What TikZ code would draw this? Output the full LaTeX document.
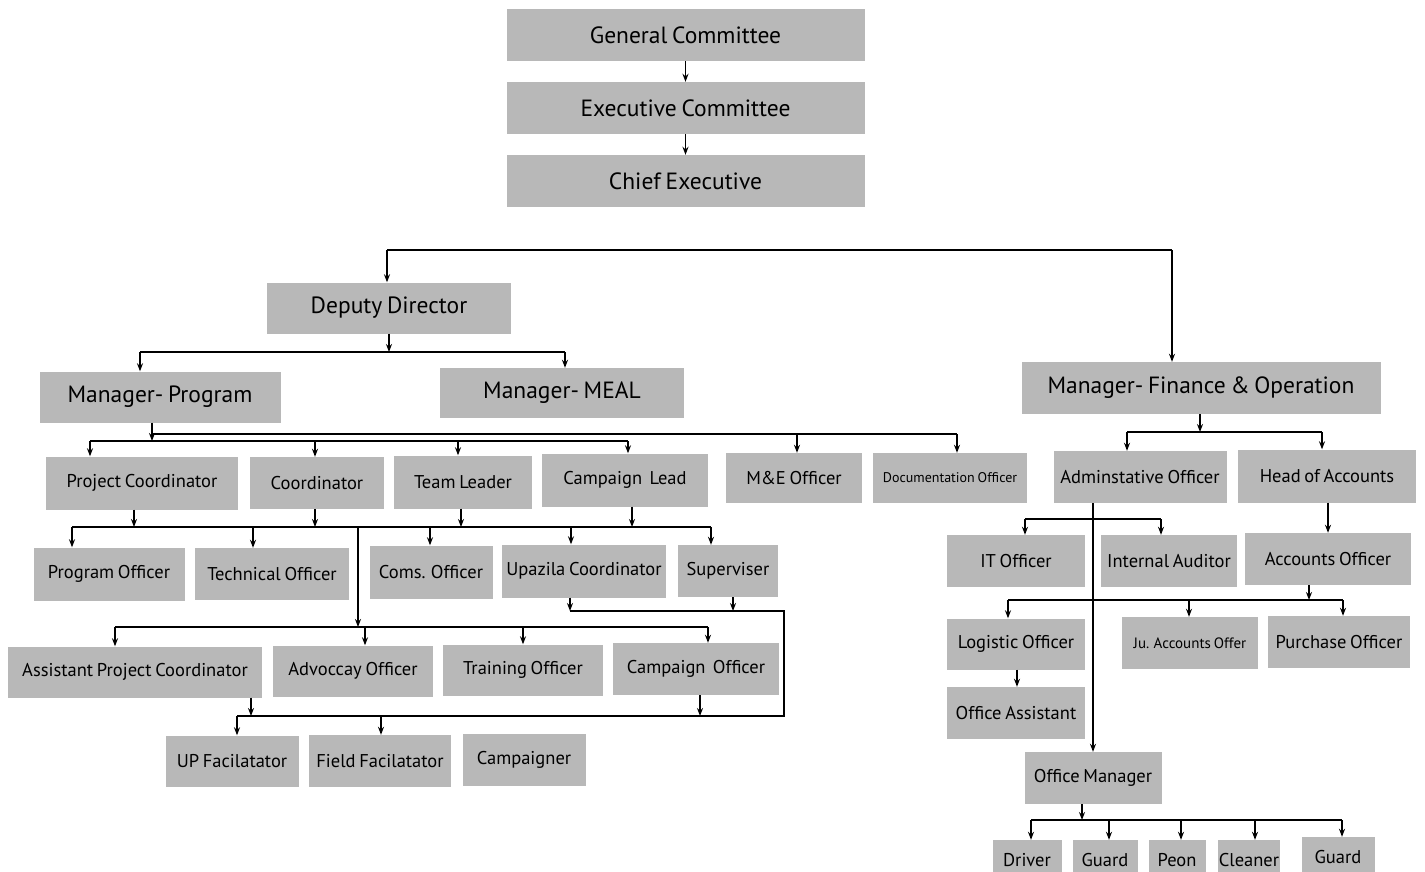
\documentclass[tikz,border=0pt]{standalone}
\usepackage{fontspec}
\setmainfont{PT Sans}[WordSpace=0.75]
\usetikzlibrary{arrows.meta,positioning}
\definecolor{boxgray}{HTML}{B8B8B8}
\tikzset{
  post/.style={rectangle,fill=boxgray,inner sep=0pt,align=center,minimum height=52pt,font=\fontsize{18.5}{21}\selectfont},
  bigpost/.style={post,font=\fontsize{23.5}{27}\selectfont},
  lowpost/.style={post,minimum height=40pt,font=\fontsize{18.5}{21}\selectfont},
  arrow/.style={-{Stealth[length=8pt,width=6pt]},line width=1.8pt,black},
  link/.style={line width=1.8pt,black}
}
\begin{document}
\begin{tikzpicture}[x=1pt,y=-1pt]
  \clip (0,0) rectangle (1425,871);
  % top of the chart
  \node[bigpost,minimum width=358pt] (gc) at (685.5,35) {General Committee};
  \node[bigpost,minimum width=358pt] (ec) at (685.5,108) {Executive Committee};
  \node[bigpost,minimum width=358pt] (ce) at (685.5,181) {Chief Executive};
  \draw[arrow] (gc) -- (ec);
  \draw[arrow] (ec) -- (ce);

  \node[bigpost,minimum width=244pt,minimum height=51pt] (dd) at (389,308) {Deputy Director};
  \node[bigpost,minimum width=241pt,minimum height=51pt] (mprog) at (160,397) {Manager- Program};
  \node[bigpost,minimum width=244pt,minimum height=50pt] (mmeal) at (562,393) {Manager- MEAL};
  \node[bigpost,minimum width=359pt] (mfo) at (1201,388) {Manager- Finance \& Operation};
  \draw[link] (387,250) -- (1172,250);
  \draw[arrow] (387,250) -- (387,0 |- dd.north);
  \draw[arrow] (1172,250) -- (1172,0 |- mfo.north);
  \draw[arrow] (389,0 |- dd.south) -- (389,352);
  \draw[link] (140,352) -- (565,352);
  \draw[arrow] (140,352) -- (140,0 |- mprog.north);
  \draw[arrow] (565,352) -- (565,0 |- mmeal.north);

  % program side
  \node[post,minimum width=192pt,minimum height=53pt] (pc) at (142,483) {Project Coordinator};
  \node[post,minimum width=134pt] (crd) at (317,483) {Coordinator};
  \node[post,minimum width=138pt,minimum height=53pt] (tl) at (463,482) {Team Leader};
  \node[post,minimum width=166pt,minimum height=53pt] (cl) at (625,480) {Campaign\ \ Lead};
  \node[post,minimum width=136pt,minimum height=50pt] (me) at (794,478) {M\&E Officer};
  \node[post,minimum width=154pt,minimum height=50pt,font=\fontsize{14}{16}\selectfont] (doc) at (950,478) {Documentation Officer};
  \draw[arrow] (152,0 |- mprog.south) -- (152,441);
  \draw[link] (152,434) -- (957,434);
  \draw[arrow] (797,434) -- (797,0 |- me.north);
  \draw[arrow] (957,434) -- (957,0 |- doc.north);
  \draw[link] (90,441) -- (628,441);
  \draw[arrow] (90,441) -- (90,0 |- pc.north);
  \draw[arrow] (315,441) -- (315,0 |- crd.north);
  \draw[arrow] (458,441) -- (458,0 |- tl.north);
  \draw[arrow] (628,441) -- (628,0 |- cl.north);

  \node[post,minimum width=151pt,minimum height=53pt] (po) at (109,574) {Program Officer};
  \node[post,minimum width=154pt] (tco) at (272,574) {Technical Officer};
  \node[post,minimum width=123pt,minimum height=53pt] (coms) at (431,572) {Coms. Officer};
  \node[post,minimum width=164pt,minimum height=53pt] (upc) at (584,571) {Upazila Coordinator};
  \node[post,minimum width=100pt] (sup) at (728,571) {Superviser};
  \draw[arrow] (134,0 |- pc.south) -- (134,527);
  \draw[arrow] (315,0 |- crd.south) -- (315,527);
  \draw[arrow] (461,0 |- tl.south) -- (461,527);
  \draw[arrow] (632,0 |- cl.south) -- (632,527);
  \draw[link] (72,527) -- (711,527);
  \draw[arrow] (72,527) -- (72,0 |- po.north);
  \draw[arrow] (253,527) -- (253,0 |- tco.north);
  \draw[arrow] (430,527) -- (430,0 |- coms.north);
  \draw[arrow] (571,527) -- (571,0 |- upc.north);
  \draw[arrow] (711,527) -- (711,0 |- sup.north);

  \node[post,minimum width=254pt,minimum height=51pt] (apc) at (135,672) {Assistant Project Coordinator};
  \node[post,minimum width=160pt,minimum height=51pt] (adv) at (353,671) {Advoccay Officer};
  \node[post,minimum width=160pt,minimum height=51pt] (tro) at (523,670) {Training Officer};
  \node[post,minimum width=166pt] (cpo) at (696,669) {Campaign\ \ Officer};
  \draw[arrow] (358,527) -- (358,627);
  \draw[link] (115,627) -- (708,627);
  \draw[arrow] (115,627) -- (115,0 |- apc.north);
  \draw[arrow] (365,627) -- (365,0 |- adv.north);
  \draw[arrow] (523,627) -- (523,0 |- tro.north);
  \draw[arrow] (708,627) -- (708,0 |- cpo.north);

  \node[post,minimum width=133pt,minimum height=51pt] (upf) at (232,761) {UP Facilatator};
  \node[post,minimum width=142pt] (ff) at (380,761) {Field Facilatator};
  \node[post,minimum width=123pt] (cmp) at (524,760) {Campaigner};
  \draw[arrow] (570,0 |- upc.south) -- (570,611);
  \draw[arrow] (733,0 |- sup.south) -- (733,611);
  \draw[link] (570,611) -- (784,611) -- (784,716) -- (237,716);
  \draw[arrow] (700,0 |- cpo.south) -- (700,716);
  \draw[arrow] (251,0 |- apc.south) -- (251,716);
  \draw[arrow] (237,716) -- (237,0 |- upf.north);
  \draw[arrow] (381,716) -- (381,0 |- ff.north);

  % finance side
  \node[post,minimum width=173pt] (adm) at (1140,477) {Adminstative Officer};
  \node[post,minimum width=178pt,minimum height=53pt] (hoa) at (1327,476) {Head of Accounts};
  \draw[arrow] (1200,0 |- mfo.south) -- (1200,432);
  \draw[link] (1127,432) -- (1322,432);
  \draw[arrow] (1127,432) -- (1127,0 |- adm.north);
  \draw[arrow] (1322,432) -- (1322,0 |- hoa.north);

  \node[post,minimum width=138pt] (ito) at (1016,561) {IT Officer};
  \node[post,minimum width=136pt] (ia) at (1169,561) {Internal Auditor};
  \node[post,minimum width=166pt] (ao) at (1328,559) {Accounts Officer};
  \node[post,minimum width=138pt,minimum height=51pt] (lo) at (1016,644) {Logistic Officer};
  \node[post,minimum width=136pt,font=\fontsize{15}{17}\selectfont] (jao) at (1190,643) {Ju. Accounts Offer};
  \node[post,minimum width=142pt] (puo) at (1339,642) {Purchase Officer};
  \node[post,minimum width=138pt] (oa) at (1016,713) {Office Assistant};
  \node[post,minimum width=137pt] (om) at (1093,778) {Office Manager};
  \draw[arrow] (1093,0 |- adm.south) -- (1093,0 |- om.north);
  \draw[link] (1025,519) -- (1161,519);
  \draw[arrow] (1025,519) -- (1025,0 |- ito.north);
  \draw[arrow] (1161,519) -- (1161,0 |- ia.north);
  \draw[arrow] (1328,0 |- hoa.south) -- (1328,0 |- ao.north);
  \draw[arrow] (1309,0 |- ao.south) -- (1309,600);
  \draw[link] (1008,600) -- (1343,600);
  \draw[arrow] (1008,600) -- (1008,0 |- lo.north);
  \draw[arrow] (1189,600) -- (1189,0 |- jao.north);
  \draw[arrow] (1343,600) -- (1343,0 |- puo.north);
  \draw[arrow] (1017,0 |- lo.south) -- (1017,0 |- oa.north);

  \node[lowpost,minimum width=69pt] (drv) at (1027,860) {Driver};
  \node[lowpost,minimum width=65pt] (gd1) at (1105,860) {Guard};
  \node[lowpost,minimum width=57pt] (peon) at (1177,860) {Peon};
  \node[lowpost,minimum width=62pt] (cln) at (1249,860) {Cleaner};
  \node[lowpost,minimum width=73pt] (gd2) at (1338,857) {Guard};
  \draw[arrow] (1082,0 |- om.south) -- (1082,820);
  \draw[link] (1031,820) -- (1342,820);
  \draw[arrow] (1031,820) -- (1031,0 |- drv.north);
  \draw[arrow] (1109,820) -- (1109,0 |- gd1.north);
  \draw[arrow] (1181,820) -- (1181,0 |- peon.north);
  \draw[arrow] (1255,820) -- (1255,0 |- cln.north);
  \draw[arrow] (1342,820) -- (1342,0 |- gd2.north);
\end{tikzpicture}
\end{document}
